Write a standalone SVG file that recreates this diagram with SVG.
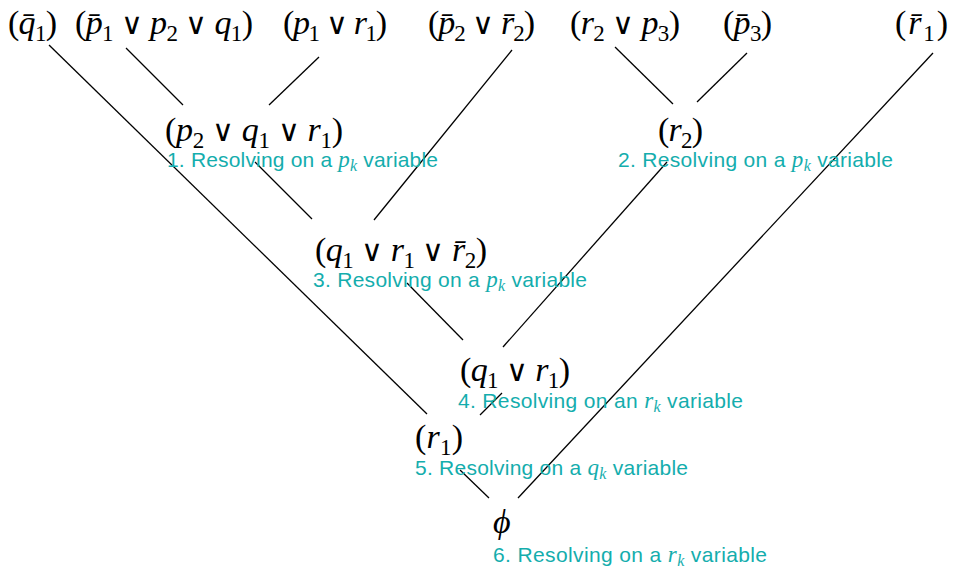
<svg xmlns="http://www.w3.org/2000/svg" width="954" height="571" viewBox="0 0 954 571">
<style>
.m{font-family:"Liberation Serif","DejaVu Serif",serif;font-size:34px;fill:#000}
.i{font-style:italic}
.s{font-size:23px;font-style:normal}
.v{font-family:"DejaVu Sans","Liberation Sans",sans-serif;font-weight:200;font-size:30px}
.l{font-family:"Liberation Sans","DejaVu Sans",sans-serif;font-size:21px;fill:#14adad}
.li{font-family:"Liberation Serif","DejaVu Serif",serif;font-style:italic;font-size:23px}
.ls{font-size:16px}
.c line{stroke:#000;stroke-width:1.3;fill:none}
</style>
<rect width="954" height="571" fill="#fff"/>
<g id="connectors" class="c">
<line x1="49" y1="45" x2="427" y2="414"/>
<line x1="126" y1="48" x2="183" y2="105"/>
<line x1="319" y1="57" x2="269" y2="105"/>
<line x1="512" y1="50" x2="374" y2="220"/>
<line x1="615" y1="47" x2="673" y2="104"/>
<line x1="747" y1="53" x2="697" y2="102"/>
<line x1="933" y1="53" x2="518" y2="498"/>
<line x1="255" y1="162" x2="312" y2="219"/>
<line x1="667" y1="162" x2="503" y2="347"/>
<line x1="407" y1="283" x2="463" y2="340"/>
<line x1="502" y1="393" x2="480" y2="415"/>
<line x1="460" y1="470" x2="489" y2="498"/>
</g>
<g id="n_q1bar"><text class="m" x="8" y="34" textLength="49" lengthAdjust="spacing">(<tspan class="i">q&#x304;</tspan><tspan class="s" dy="7">1</tspan><tspan dy="-7">)</tspan></text></g>
<g id="n_p1b_p2_q1"><text class="m" x="75" y="34" textLength="178" lengthAdjust="spacing">(<tspan class="i">p&#x304;</tspan><tspan class="s" dy="7">1</tspan><tspan dy="-7"> </tspan><tspan class="v">∨</tspan> <tspan class="i">p</tspan><tspan class="s" dy="7">2</tspan><tspan dy="-7"> </tspan><tspan class="v">∨</tspan> <tspan class="i">q</tspan><tspan class="s" dy="7">1</tspan><tspan dy="-7">)</tspan></text></g>
<g id="n_p1_r1"><text class="m" x="283" y="34" textLength="104" lengthAdjust="spacing">(<tspan class="i">p</tspan><tspan class="s" dy="7">1</tspan><tspan dy="-7"> </tspan><tspan class="v">∨</tspan> <tspan class="i">r</tspan><tspan class="s" dy="7">1</tspan><tspan dy="-7">)</tspan></text></g>
<g id="n_p2b_r2b"><text class="m" x="428" y="34" textLength="107" lengthAdjust="spacing">(<tspan class="i">p&#x304;</tspan><tspan class="s" dy="7">2</tspan><tspan dy="-7"> </tspan><tspan class="v">∨</tspan> <tspan class="i">r&#x304;</tspan><tspan class="s" dy="7">2</tspan><tspan dy="-7">)</tspan></text></g>
<g id="n_r2_p3"><text class="m" x="570" y="34" textLength="110" lengthAdjust="spacing">(<tspan class="i">r</tspan><tspan class="s" dy="7">2</tspan><tspan dy="-7"> </tspan><tspan class="v">∨</tspan> <tspan class="i">p</tspan><tspan class="s" dy="7">3</tspan><tspan dy="-7">)</tspan></text></g>
<g id="n_p3bar"><text class="m" x="723" y="34" textLength="49" lengthAdjust="spacing">(<tspan class="i">p&#x304;</tspan><tspan class="s" dy="7">3</tspan><tspan dy="-7">)</tspan></text></g>
<g id="n_r1bar"><text class="m" x="895" y="34" textLength="53" lengthAdjust="spacing">(<tspan class="i">r&#x304;</tspan><tspan class="s" dy="7">1</tspan><tspan dy="-7">)</tspan></text></g>
<g id="n_p2_q1_r1"><text class="m" x="165" y="141" textLength="178" lengthAdjust="spacing">(<tspan class="i">p</tspan><tspan class="s" dy="7">2</tspan><tspan dy="-7"> </tspan><tspan class="v">∨</tspan> <tspan class="i">q</tspan><tspan class="s" dy="7">1</tspan><tspan dy="-7"> </tspan><tspan class="v">∨</tspan> <tspan class="i">r</tspan><tspan class="s" dy="7">1</tspan><tspan dy="-7">)</tspan></text>
<text class="l" x="167" y="167" textLength="271" lengthAdjust="spacing">1.  Resolving on a <tspan class="li">p</tspan><tspan class="li ls" dy="4">k</tspan><tspan dy="-4"> variable</tspan></text></g>
<g id="n_r2"><text class="m" x="658" y="141" textLength="45" lengthAdjust="spacing">(<tspan class="i">r</tspan><tspan class="s" dy="7">2</tspan><tspan dy="-7">)</tspan></text>
<text class="l" x="618" y="167" textLength="275" lengthAdjust="spacing">2.  Resolving on a <tspan class="li">p</tspan><tspan class="li ls" dy="4">k</tspan><tspan dy="-4"> variable</tspan></text></g>
<g id="n_q1_r1_r2b"><text class="m" x="315" y="261" textLength="172" lengthAdjust="spacing">(<tspan class="i">q</tspan><tspan class="s" dy="7">1</tspan><tspan dy="-7"> </tspan><tspan class="v">∨</tspan> <tspan class="i">r</tspan><tspan class="s" dy="7">1</tspan><tspan dy="-7"> </tspan><tspan class="v">∨</tspan> <tspan class="i">r&#x304;</tspan><tspan class="s" dy="7">2</tspan><tspan dy="-7">)</tspan></text>
<text class="l" x="313" y="287" textLength="274" lengthAdjust="spacing">3.  Resolving on a <tspan class="li">p</tspan><tspan class="li ls" dy="4">k</tspan><tspan dy="-4"> variable</tspan></text></g>
<g id="n_q1_r1"><text class="m" x="460" y="381" textLength="110" lengthAdjust="spacing">(<tspan class="i">q</tspan><tspan class="s" dy="7">1</tspan><tspan dy="-7"> </tspan><tspan class="v">∨</tspan> <tspan class="i">r</tspan><tspan class="s" dy="7">1</tspan><tspan dy="-7">)</tspan></text>
<text class="l" x="458" y="408" textLength="285" lengthAdjust="spacing">4.  Resolving on an <tspan class="li">r</tspan><tspan class="li ls" dy="4">k</tspan><tspan dy="-4"> variable</tspan></text></g>
<g id="n_r1"><text class="m" x="415" y="448" textLength="48" lengthAdjust="spacing">(<tspan class="i">r</tspan><tspan class="s" dy="7">1</tspan><tspan dy="-7">)</tspan></text>
<text class="l" x="415" y="475" textLength="273" lengthAdjust="spacing">5.  Resolving on a <tspan class="li">q</tspan><tspan class="li ls" dy="4">k</tspan><tspan dy="-4"> variable</tspan></text></g>
<g id="n_phi"><text class="m i" x="493" y="533">ϕ</text>
<text class="l" x="493" y="562" textLength="274" lengthAdjust="spacing">6.  Resolving on a <tspan class="li">r</tspan><tspan class="li ls" dy="4">k</tspan><tspan dy="-4"> variable</tspan></text></g>
</svg>
